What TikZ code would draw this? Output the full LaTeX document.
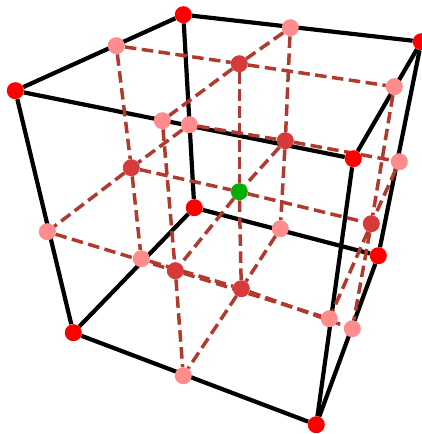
\documentclass[tikz,border=0pt]{standalone}
\usetikzlibrary{backgrounds}
\definecolor{cornerred}{HTML}{FF0000}
\definecolor{edgepink}{HTML}{FF8C8C}
\definecolor{facered}{HTML}{D63A3A}
\definecolor{centergreen}{HTML}{00B000}
\definecolor{gridbrown}{HTML}{B03A2E}
\tikzset{
  dot/.style={circle,inner sep=0pt,minimum size=17pt,draw=none},
  corner/.style={dot,fill=cornerred},
  edgemid/.style={dot,fill=edgepink},
  facemid/.style={dot,fill=facered},
  centre/.style={dot,fill=centergreen},
  cubeline/.style={draw=black,line width=4.2pt},
  gridline/.style={draw=gridbrown,line width=3.5pt,dash pattern=on 11.5pt off 5.5pt}
}
\begin{document}
\begin{tikzpicture}[x=1pt,y=-1pt]
\useasboundingbox (-0.3,-0.7) rectangle (421.7,433.3);
% corners
\node[corner] (A) at (183,14) {};
\node[corner] (B) at (421,41) {};
\node[corner] (C) at (15,90) {};
\node[corner] (D) at (353,158) {};
\node[corner] (E) at (194,207) {};
\node[corner] (F) at (378,255) {};
\node[corner] (G) at (73,332) {};
\node[corner] (H) at (316,424) {};
% edge midpoints
\node[edgemid] (AB) at (290,27) {};
\node[edgemid] (AC) at (116,45) {};
\node[edgemid] (BD) at (394,86) {};
\node[edgemid] (CD) at (162,120) {};
\node[edgemid] (AE) at (189,124) {};
\node[edgemid] (BF) at (399,161) {};
\node[edgemid] (CG) at (47,231) {};
\node[edgemid] (EG) at (141,258) {};
\node[edgemid] (EF) at (280,228) {};
\node[edgemid] (DH) at (329,318) {};
\node[edgemid] (FH) at (352,328) {};
\node[edgemid] (GH) at (183,375) {};
% face centres
\node[facemid] (top) at (239,63) {};
\node[facemid] (back) at (285,140) {};
\node[facemid] (left) at (131,167) {};
\node[facemid] (right) at (371,223) {};
\node[facemid] (front) at (175,270) {};
\node[facemid] (bottom) at (241,288) {};
\node[centre] (M) at (239,191) {};
\begin{scope}[on background layer]
\path[cubeline] (A) -- (B);
\path[cubeline] (A) -- (C);
\path[cubeline] (C) -- (D);
\path[cubeline] (B) -- (D);
\path[cubeline] (A) -- (E);
\path[cubeline] (B) -- (F);
\path[cubeline] (C) -- (G);
\path[cubeline] (D) -- (H);
\path[cubeline] (E) -- (F);
\path[cubeline] (E) -- (G);
\path[cubeline] (G) -- (H);
\path[cubeline] (F) -- (H);
% top face
\path[gridline] (AC) -- (top);
\path[gridline] (top) -- (BD);
\path[gridline] (AB) -- (top);
\path[gridline] (top) -- (CD);
% back face
\path[gridline] (AB) -- (back);
\path[gridline] (back) -- (EF);
\path[gridline] (AE) -- (back);
\path[gridline] (back) -- (BF);
% left face
\path[gridline] (AC) -- (left);
\path[gridline] (left) -- (EG);
\path[gridline] (AE) -- (left);
\path[gridline] (left) -- (CG);
% right face
\path[gridline] (BD) -- (right);
\path[gridline] (right) -- (FH);
\path[gridline] (BF) -- (right);
\path[gridline] (right) -- (DH);
% front face
\path[gridline] (CD) -- (front);
\path[gridline] (front) -- (GH);
\path[gridline] (CG) -- (front);
\path[gridline] (front) -- (DH);
% bottom face
\path[gridline] (EF) -- (bottom);
\path[gridline] (bottom) -- (GH);
\path[gridline] (EG) -- (bottom);
\path[gridline] (bottom) -- (FH);
% through the centre
\path[gridline] (top) -- (M);
\path[gridline] (M) -- (bottom);
\path[gridline] (left) -- (M);
\path[gridline] (M) -- (right);
\path[gridline] (back) -- (M);
\path[gridline] (M) -- (front);
\end{scope}
\end{tikzpicture}
\end{document}
